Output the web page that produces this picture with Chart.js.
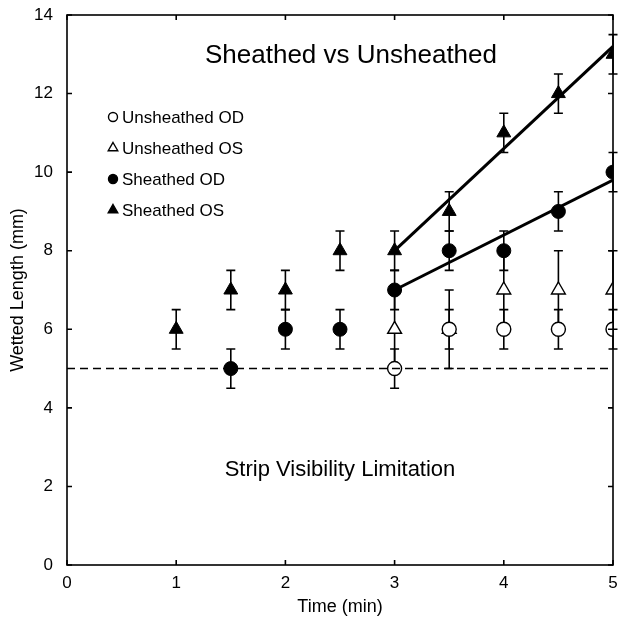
<!DOCTYPE html>
<html>
<head>
<meta charset="utf-8">
<script src="https://cdn.jsdelivr.net/npm/chart.js@4.4.1/dist/chart.umd.min.js"></script>
<style>
  html, body { margin: 0; padding: 0; background: #fff; }
  #wrap { width: 619px; height: 626px; }
</style>
</head>
<body>
<div id="wrap"><canvas id="wetChart"></canvas></div>
<script>
// Wetted length vs time
const timesSheathedOS = [1, 1.5, 2, 2.5, 3, 3.5, 4, 4.5, 5];
const sheathedOS = [6, 7, 7, 8, 8, 9, 11, 12, 13];
const sheathedOSErr = [0.5, 0.5, 0.5, 0.5, 0.5, 0.5, 0.5, 0.5, 0.5];

const timesSheathedOD = [1.5, 2, 2.5, 3, 3.5, 4, 4.5, 5];
const sheathedOD = [5, 6, 6, 7, 8, 8, 9, 10];
const sheathedODErr = [0.5, 0.5, 0.5, 0.5, 0.5, 0.5, 0.5, 0.5];

const timesUnsheathed = [3, 3.5, 4, 4.5, 5];
const unsheathedOS = [6, 6, 7, 7, 7];
const unsheathedOSErr = [1, 1, 1, 1, 1];
const unsheathedOD = [5, 6, 6, 6, 6];
const unsheathedODErr = [0.5, 0.5, 0.5, 0.5, 0.5];

// trend lines
const fitX = [3, 5];
const fitSheathedOS = [8, 13.2];
const fitSheathedOD = [7, 9.8];

// visibility limit
const limitX = [0, 5];
const limitY = [5, 5];

const xTicks = [0, 1, 2, 3, 4, 5];
const yTicks = [0, 2, 4, 6, 8, 10, 12, 14];

const FONT = "'Liberation Sans', Arial, sans-serif";

function pts(xs, ys) {
    return xs.map((x, i) => ({ x: x, y: ys[i] }));
}

// error bars drawn under the markers
const errorBars = {
    id: "errorBars",
    beforeDatasetsDraw(chart) {
        const ctx = chart.ctx;
        const xs = chart.scales.x, ys = chart.scales.y;
        ctx.save();
        ctx.strokeStyle = "#000";
        ctx.lineWidth = 1.6;
        chart.data.datasets.forEach(ds => {
            if (!ds.errors) return;
            ds.data.forEach((p, i) => {
                const e = ds.errors[i];
                const px = xs.getPixelForValue(p.x);
                const top = ys.getPixelForValue(p.y + e);
                const bot = ys.getPixelForValue(p.y - e);
                ctx.beginPath();
                ctx.moveTo(px, top); ctx.lineTo(px, bot);
                ctx.moveTo(px - 4.5, top); ctx.lineTo(px + 4.5, top);
                ctx.moveTo(px - 4.5, bot); ctx.lineTo(px + 4.5, bot);
                ctx.stroke();
            });
        });
        ctx.restore();
    }
};

// box frame with inward ticks, texts and legend
const frameAndText = {
    id: "frameAndText",
    afterDraw(chart) {
        const ctx = chart.ctx;
        const a = chart.chartArea;
        const xs = chart.scales.x, ys = chart.scales.y;
        ctx.save();
        ctx.strokeStyle = "#000";
        ctx.lineWidth = 1.6;
        ctx.strokeRect(a.left, a.top, a.right - a.left, a.bottom - a.top);
        ctx.beginPath();
        xTicks.forEach(v => {
            const px = xs.getPixelForValue(v);
            ctx.moveTo(px, a.bottom); ctx.lineTo(px, a.bottom - 5);
            ctx.moveTo(px, a.top); ctx.lineTo(px, a.top + 5);
        });
        yTicks.forEach(v => {
            const py = ys.getPixelForValue(v);
            ctx.moveTo(a.left, py); ctx.lineTo(a.left + 5, py);
            ctx.moveTo(a.right, py); ctx.lineTo(a.right - 5, py);
        });
        ctx.stroke();

        ctx.fillStyle = "#000";
        ctx.textAlign = "center";
        ctx.textBaseline = "middle";
        ctx.font = "26px " + FONT;
        ctx.fillText("Sheathed vs Unsheathed", a.left + 284, a.top + 41);
        ctx.font = "22px " + FONT;
        ctx.fillText("Strip Visibility Limitation", a.left + 273, a.top + 455);

        // legend
        ctx.font = "17px " + FONT;
        ctx.textAlign = "left";
        const legendItems = chart.data.datasets.filter(d => d.inLegend);
        legendItems.forEach((d, i) => {
            const ly = a.top + 102 + i * 31;
            const lx = a.left + 46;
            ctx.lineWidth = 1.4;
            ctx.fillStyle = d.backgroundColor;
            ctx.strokeStyle = "#000";
            ctx.beginPath();
            if (d.pointStyle === "circle") {
                ctx.arc(lx, ly, 4.5, 0, Math.PI * 2);
            } else {
                const r = 5.5;
                ctx.moveTo(lx, ly - r);
                ctx.lineTo(lx + r * 0.866, ly + r * 0.5);
                ctx.lineTo(lx - r * 0.866, ly + r * 0.5);
                ctx.closePath();
            }
            ctx.fill();
            ctx.stroke();
            ctx.fillStyle = "#000";
            ctx.fillText(d.label, lx + 9, ly + 1);
        });
        ctx.restore();
    }
};

const ctx = document.getElementById("wetChart").getContext("2d");

new Chart(ctx, {
    type: "scatter",
    data: {
        datasets: [
            {
                label: "limit",
                type: "line",
                data: pts(limitX, limitY),
                borderColor: "#000",
                borderWidth: 1.5,
                borderDash: [8, 5],
                pointRadius: 0,
                fill: false
            },
            {
                label: "fit OS",
                type: "line",
                data: pts(fitX, fitSheathedOS),
                borderColor: "#000",
                borderWidth: 3,
                pointRadius: 0,
                fill: false
            },
            {
                label: "fit OD",
                type: "line",
                data: pts(fitX, fitSheathedOD),
                borderColor: "#000",
                borderWidth: 3,
                pointRadius: 0,
                fill: false
            },
            {
                label: "Unsheathed OD",
                inLegend: true,
                data: pts(timesUnsheathed, unsheathedOD),
                errors: unsheathedODErr,
                pointStyle: "circle",
                pointRadius: 7,
                backgroundColor: "#fff",
                borderColor: "#000",
                borderWidth: 1.4
            },
            {
                label: "Unsheathed OS",
                inLegend: true,
                data: pts(timesUnsheathed, unsheathedOS),
                errors: unsheathedOSErr,
                pointStyle: "triangle",
                pointRadius: 8,
                backgroundColor: "#fff",
                borderColor: "#000",
                borderWidth: 1.4
            },
            {
                label: "Sheathed OD",
                inLegend: true,
                data: pts(timesSheathedOD, sheathedOD),
                errors: sheathedODErr,
                pointStyle: "circle",
                pointRadius: 7,
                backgroundColor: "#000",
                borderColor: "#000",
                borderWidth: 1
            },
            {
                label: "Sheathed OS",
                inLegend: true,
                data: pts(timesSheathedOS, sheathedOS),
                errors: sheathedOSErr,
                pointStyle: "triangle",
                pointRadius: 8,
                backgroundColor: "#000",
                borderColor: "#000",
                borderWidth: 1
            }
        ]
    },
    options: {
        responsive: true,
        maintainAspectRatio: false,
        animation: false,
        layout: { autoPadding: false, padding: { top: 15, right: 6, left: 1, bottom: 0 } },
        plugins: {
            legend: { display: false },
            tooltip: { enabled: false }
        },
        scales: {
            x: {
                type: "linear",
                min: 0,
                max: 5,
                afterBuildTicks: s => { s.ticks = xTicks.map(v => ({ value: v })); },
                afterFit: s => { s.height = 61; s.paddingLeft = 0; s.paddingRight = 0; },
                grid: { display: false, drawTicks: false },
                border: { display: false },
                ticks: { color: "#000", padding: 8, font: { family: FONT, size: 17 } },
                title: {
                    display: true,
                    text: "Time (min)",
                    color: "#000",
                    padding: { bottom: 8 },
                    font: { family: FONT, size: 18 }
                }
            },
            y: {
                type: "linear",
                min: 0,
                max: 14,
                afterBuildTicks: s => { s.ticks = yTicks.map(v => ({ value: v })); },
                afterFit: s => { s.width = 66; s.paddingTop = 0; s.paddingBottom = 0; },
                grid: { display: false, drawTicks: false },
                border: { display: false },
                ticks: { color: "#000", padding: 14, font: { family: FONT, size: 17 } },
                title: {
                    display: true,
                    text: "Wetted Length (mm)",
                    color: "#000",
                    padding: { top: 6 },
                    font: { family: FONT, size: 18 }
                }
            }
        }
    },
    plugins: [errorBars, frameAndText]
});
</script>
</body>
</html>
